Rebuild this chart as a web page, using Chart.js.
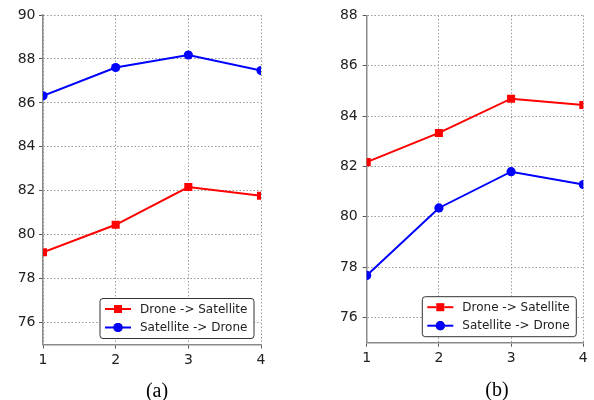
<!DOCTYPE html>
<html>
<head>
<meta charset="utf-8">
<script src="https://cdn.jsdelivr.net/npm/chart.js@4"></script>
<style>
  html, body { margin: 0; padding: 0; background: #fff; }
  #wrap { position: relative; width: 594px; height: 400px; overflow: hidden; }
  canvas { position: absolute; top: 0; }
  .cap { position: absolute; font-family: "Liberation Serif", serif; font-size: 20px; color: #000;
         transform: translate(-50%, -50%); white-space: nowrap; }
</style>
</head>
<body>
<div id="wrap">
  <canvas id="chartA" width="280" height="400" style="left:0"></canvas>
  <canvas id="chartB" width="294" height="400" style="left:300px"></canvas>
  <div class="cap" style="left:157px; top:390px">(a)</div>
  <div class="cap" style="left:497px; top:389px">(b)</div>
</div>
<script>
// Shared x categories (step index)
const steps = [1, 2, 3, 4];

// Panel (a)
const droneToSatA = [79.2, 80.45, 82.17, 81.77];
const satToDroneA = [86.32, 87.61, 88.18, 87.47];
const yTicksA = [76, 78, 80, 82, 84, 86, 88, 90];

// Panel (b)
const droneToSatB = [82.17, 83.33, 84.69, 84.44];
const satToDroneB = [77.67, 80.35, 81.79, 81.28];
const yTicksB = [76, 78, 80, 82, 84, 86, 88];

const seriesNames = ['Drone -> Satellite', 'Satellite -> Drone'];

const FONT = 'DejaVu Sans, sans-serif';
const GRID = '#9a9a9a';
const AXIS = '#8a8a8a';
const TEXT = '#222';

// Matplotlib-style legend: line with marker, boxed in the lower right
const boxLegend = {
  id: 'boxLegend',
  afterDraw(chart) {
    const ctx = chart.ctx;
    const area = chart.chartArea;
    const w = 154, h = 40;
    const x0 = area.right - 7 - w;
    const y0 = area.bottom - 6 - h;

    ctx.save();
    ctx.beginPath();
    ctx.roundRect(x0, y0, w, h, 3);
    ctx.fillStyle = '#fff';
    ctx.fill();
    ctx.strokeStyle = '#333';
    ctx.lineWidth = 1;
    ctx.stroke();

    chart.data.datasets.forEach((ds, i) => {
      const y = y0 + 10.5 + i * 18.5;
      ctx.beginPath();
      ctx.moveTo(x0 + 5, y);
      ctx.lineTo(x0 + 31, y);
      ctx.strokeStyle = ds.borderColor;
      ctx.lineWidth = 2;
      ctx.stroke();
      Chart.helpers.drawPoint(ctx, {
        pointStyle: ds.pointStyle,
        radius: ds.pointRadius,
        borderWidth: 0,
      }, x0 + 18, y);
      ctx.fillStyle = ds.borderColor;
      ctx.fill();

      ctx.fillStyle = TEXT;
      ctx.font = '12px ' + FONT;
      ctx.textAlign = 'left';
      ctx.textBaseline = 'middle';
      ctx.fillText(ds.label, x0 + 40, y + 0.5);
    });
    ctx.restore();
  },
};

function makeChart(canvas, redData, blueData, yTicks, area) {
  const yMin = 75;
  const yMax = yTicks[yTicks.length - 1];

  const datasets = [
    {
      label: seriesNames[0],
      data: steps.map((s, i) => ({ x: s, y: redData[i] })),
      borderColor: '#ff0000',
      backgroundColor: '#ff0000',
      borderWidth: 2,
      pointStyle: 'rect',
      pointRadius: 5.7,
      pointBorderWidth: 0,
      clip: 0,
    },
    {
      label: seriesNames[1],
      data: steps.map((s, i) => ({ x: s, y: blueData[i] })),
      borderColor: '#0000ff',
      backgroundColor: '#0000ff',
      borderWidth: 2,
      pointStyle: 'circle',
      pointRadius: 4.6,
      pointBorderWidth: 0,
      clip: 0,
    },
  ];

  const grid = {
    color: GRID,
    lineWidth: 1,
    tickLength: 4,
    tickColor: '#555',
    tickBorderDash: [],
  };
  const border = { display: true, color: AXIS, width: 1.5, dash: [1.5, 2] };

  return new Chart(canvas, {
    type: 'line',
    data: { datasets },
    options: {
      responsive: false,
      animation: false,
      events: [],
      layout: {
        padding: { top: area.top, right: area.right, bottom: area.bottom, left: 0 },
      },
      plugins: { legend: { display: false }, tooltip: { enabled: false } },
      scales: {
        x: {
          type: 'linear',
          min: steps[0],
          max: steps[steps.length - 1],
          afterBuildTicks(scale) { scale.ticks = steps.map(v => ({ value: v })); },
          afterFit(scale) { scale.height = 25; },
          grid,
          border,
          ticks: { color: TEXT, font: { family: FONT, size: 14 }, padding: 3, maxRotation: 0 },
        },
        y: {
          type: 'linear',
          min: yMin,
          max: yMax,
          afterBuildTicks(scale) { scale.ticks = yTicks.map(v => ({ value: v })); },
          afterFit(scale) { scale.width = area.left; },
          grid,
          border,
          ticks: { color: TEXT, font: { family: FONT, size: 14 }, padding: area.yPad },
        },
      },
    },
    plugins: [boxLegend],
  });
}

makeChart(document.getElementById('chartA'), droneToSatA, satToDroneA, yTicksA,
  { left: 43, top: 15, right: 19, bottom: 30.5, yPad: 3.5 });
makeChart(document.getElementById('chartB'), droneToSatB, satToDroneB, yTicksB,
  { left: 66.7, top: 15.3, right: 10.7, bottom: 32.3, yPad: 5 });
</script>
</body>
</html>
